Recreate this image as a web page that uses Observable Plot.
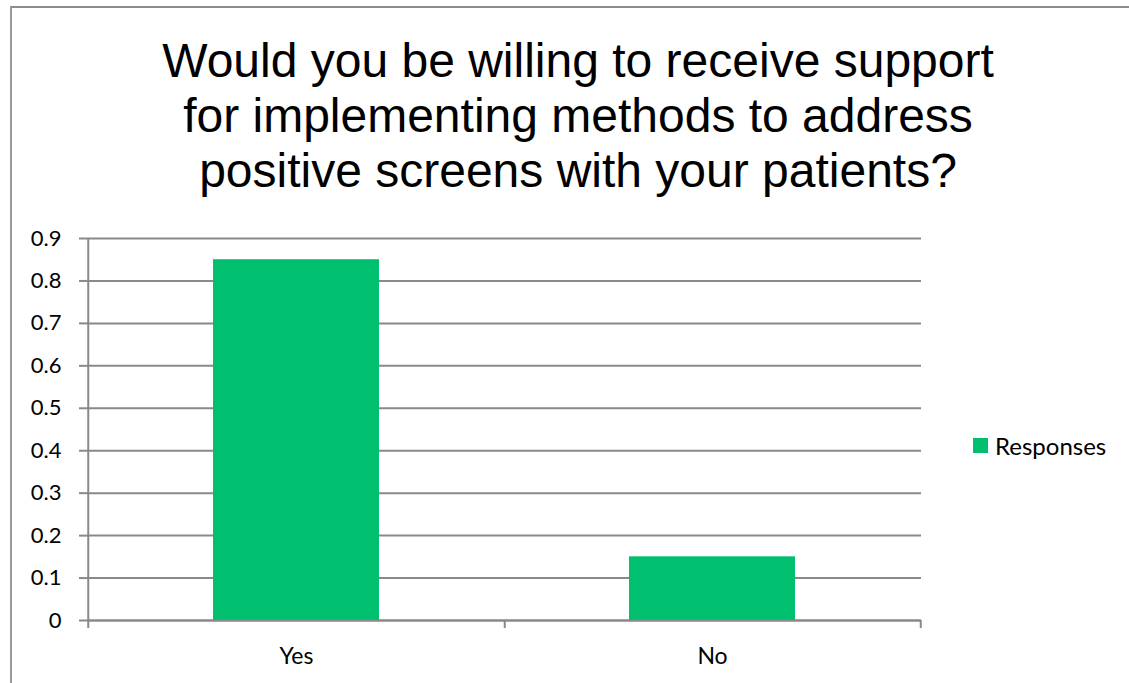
<!DOCTYPE html>
<html>
<head>
<meta charset="utf-8">
<script src="https://cdn.jsdelivr.net/npm/d3@7"></script>
<script src="https://cdn.jsdelivr.net/npm/@observablehq/plot@0.6"></script>
<style>
  html, body { margin: 0; padding: 0; background: #fff; width: 1129px; height: 683px; overflow: hidden; }
  #wrap { position: relative; width: 1129px; height: 683px; }
  #frame { position: absolute; left: 10px; top: 6px; width: 1400px; height: 1000px;
           border-top: 2px solid #8c8c8c; border-left: 2px solid #9a9a9a; box-sizing: border-box; }
  #title { position: absolute; left: 10px; top: 33px; width: 1136px; text-align: center;
           font-family: "Liberation Sans", Arial, sans-serif; font-size: 48px; line-height: 55px; color: #000; }
  #chart { position: absolute; left: 0; top: 210px; }
  #legend { position: absolute; left: 973px; top: 431px; display: flex; align-items: center;
            font-family: Lato, "Open Sans", sans-serif; font-size: 24px; color: #000; }
  #legend .sw { width: 15px; height: 15px; margin-right: 7px; }
</style>
</head>
<body>
<div id="wrap">
  <div id="frame"></div>
  <div id="title">Would you be willing to receive support<br>for implementing methods to address<br>positive screens with your patients?</div>
  <div id="chart"></div>
  <div id="legend"></div>
</div>
<script>
const categories = ["Yes", "No"];
const values = [0.85, 0.15];
const yTicks = [0, 0.1, 0.2, 0.3, 0.4, 0.5, 0.6, 0.7, 0.8, 0.9];
const seriesName = "Responses";
const barColor = "#00BF6E";
const gridColor = "#898989";

const data = categories.map((c, i) => ({category: c, value: values[i]}));

const W = 1129, H = 473, mL = 88, mR = 208, mT = 28, mB = 63;
const halfStep = (W - mL - mR) / categories.length / 2;
const plotH = H - mT - mB;

const chart = Plot.plot({
  width: W, height: H,
  marginLeft: mL, marginRight: mR, marginTop: mT, marginBottom: mB,
  style: {background: "transparent", fontFamily: "Lato, 'Open Sans', sans-serif", color: "#000", overflow: "visible"},
  x: {domain: categories, paddingInner: 0.6, paddingOuter: 0.3, label: null},
  y: {domain: [0, 0.9], label: null},
  marks: [
    Plot.ruleY(yTicks, {stroke: gridColor, strokeWidth: 2, strokeOpacity: 1}),
    Plot.barY(data, {x: "category", y: "value", fill: barColor}),
    Plot.ruleY(yTicks.slice(0, 1), {stroke: gridColor, strokeWidth: 2}),
    Plot.ruleX(categories.slice(0, 1), {x: d => d, dx: -halfStep, insetBottom: -8, stroke: gridColor, strokeWidth: 2}),
    Plot.ruleX(categories, {x: d => d, dx: halfStep, insetTop: plotH, insetBottom: -8, stroke: gridColor, strokeWidth: 2}),
    Plot.axisY({ticks: yTicks, tickSize: 9, tickPadding: 18, tickFormat: d => String(d),
                stroke: gridColor, strokeWidth: 2, strokeOpacity: 1, fontSize: 22, fill: "#000"}),
    Plot.axisX({tickSize: 0, tickPadding: 27, fontSize: 23, fill: "#000"})
  ]
});
document.getElementById("chart").appendChild(chart);

const legend = document.getElementById("legend");
const sw = document.createElement("div");
sw.className = "sw";
sw.style.background = barColor;
const lt = document.createElement("span");
lt.textContent = seriesName;
legend.appendChild(sw);
legend.appendChild(lt);
</script>
</body>
</html>
